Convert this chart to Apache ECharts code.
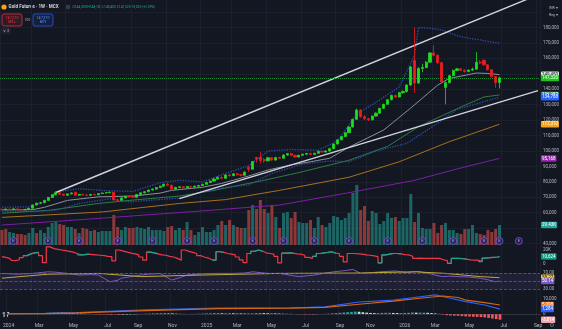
<!DOCTYPE html>
<html>
<head>
<meta charset="utf-8">
<script src="https://cdn.jsdelivr.net/npm/echarts@6/dist/echarts.min.js"></script>
<style>
  html, body { margin: 0; padding: 0; background: #131722; }
  #chart { width: 562px; height: 329px; }
</style>
</head>
<body>
<div id="chart"></div>
<script>
// weekly candles, prices in thousands (INR)
var weekCount = 140; // 130 traded weeks + right offset
var weeks = [];
for (var k = 0; k < weekCount; k++) {
  weeks.push(new Date(Date.UTC(2024, 0, 1 + 7 * k)).toISOString().slice(0, 10));
}

var open = [62.3,62.0,62.4,62.1,62.5,62.0,61.8,62.2,62.9,65.0, 66.2,66.5,68.0,69.9,71.6,73.0,72.0,71.3,72.2,73.3,
  71.4,71.9,71.5,71.3,71.9,71.6,72.4,72.8,73.0,73.3, 68.3,68.1,69.6,70.6,70.3,70.0,71.8,72.9,73.6,74.7,
  75.3,76.3,77.2,78.4,77.8,75.3,76.4,76.8,76.2,77.0, 76.6,77.2,77.6,78.4,79.6,80.5,81.8,82.9,82.3,84.5,
  84.0,85.2,84.6,84.3,89.5,88.2,95.8,96.0,94.5,93.6, 95.6,94.1,95.8,95.3,97.4,98.3,97.2,96.1,97.2,97.9,
  98.4,97.8,98.5,99.8,99.3,100.0,101.5,104.5,107.2,109.3, 111.8,115.5,120.5,126.5,122.2,120.8,120.2,122.6,124.5,127.6,
  130.2,133.2,136.0,135.0,137.8,138.5,142.7,158.7,144.0,153.5, 154.0,157.5,163.5,162.0,157.2,141.2,144.2,148.8,152.2,153.2,
  152.3,151.5,152.4,153.0,157.5,158.8,155.8,152.6,148.2,144.3];
var close = [62.0,62.4,62.1,62.5,62.0,61.8,62.2,62.9,65.0,66.2, 66.5,68.0,69.9,71.6,73.0,72.0,71.3,72.2,72.8,71.4,
  71.9,71.5,71.3,71.9,71.6,72.4,72.8,73.0,73.3,68.3, 68.1,69.6,70.6,70.3,70.0,71.8,72.9,73.6,74.7,75.3,
  76.3,77.2,78.4,77.8,75.3,76.4,76.8,76.2,77.0,76.6, 77.2,77.6,78.4,79.6,80.5,81.8,82.9,82.3,84.5,84.0,
  85.2,84.6,84.3,86.3,88.2,93.2,94.6,93.8,93.6,95.6, 94.1,95.8,95.3,97.4,98.3,97.2,96.1,97.2,97.9,98.4,
  97.8,98.5,99.8,99.3,100.0,101.5,104.5,107.2,109.3,111.8, 115.5,120.5,126.5,122.2,120.8,120.2,122.6,124.5,127.6,130.2,
  133.2,136.0,135.0,137.8,138.5,142.7,154.4,144.0,153.5,154.0, 157.5,163.5,162.0,157.2,144.7,144.2,148.8,152.2,153.2,152.3,
  151.5,152.4,153.0,157.5,157.0,155.8,152.6,148.2,144.3,147.32];
var low = [61.6,61.8,61.7,61.9,61.8,61.4,61.6,62.0,62.7,64.8, 65.6,66.2,67.7,69.5,71.2,71.6,70.9,71.0,71.9,71.0,
  71.0,71.2,70.8,71.0,71.3,71.4,72.1,72.5,72.6,67.8, 67.6,67.9,69.3,69.9,69.6,69.8,71.5,72.6,73.3,74.3,
  75.0,76.0,76.9,77.3,74.9,75.0,76.0,75.8,75.9,76.2, 76.4,76.9,77.3,78.1,79.3,80.2,81.5,81.8,82.0,83.4,
  83.7,84.1,83.6,84.0,86.5,88.0,92.5,92.0,92.4,93.2, 93.4,93.8,94.8,95.0,97.0,96.8,95.6,95.8,96.9,97.5,
  97.2,97.5,98.2,98.8,99.0,99.7,101.2,104.2,106.9,109.0, 111.5,115.2,120.2,121.5,120.0,119.4,119.8,122.3,124.2,127.3,
  129.9,132.9,134.2,134.7,137.0,138.0,142.2,137.6,143.5,151.0, 153.6,157.0,161.2,156.5,144.0,130.2,143.8,148.4,151.8,151.7,
  150.8,151.0,151.9,152.6,156.2,155.2,152.0,147.6,140.9,140.45];
var high = [62.6,62.7,62.6,62.8,62.7,62.3,62.4,63.1,65.3,66.6, 67.0,68.4,70.3,72.0,73.8,73.5,72.5,72.5,73.2,73.6,
  72.2,72.3,71.8,72.1,72.2,72.7,73.1,73.4,73.6,73.5, 69.0,69.9,71.0,71.2,70.8,72.1,73.2,74.0,75.0,75.7,
  76.7,77.6,78.9,79.2,78.2,76.8,77.2,77.3,77.4,77.3, 77.5,78.0,78.8,80.0,81.0,82.3,83.5,83.6,84.8,85.3,
  85.6,85.8,85.1,86.8,90.0,93.6,96.3,99.3,95.5,96.0, 96.2,96.2,96.3,97.8,98.7,99.0,97.6,97.5,98.3,98.8,
  98.9,98.9,100.2,100.4,100.5,102.0,104.8,107.6,109.7,112.3, 116.0,121.0,127.5,127.0,123.3,121.5,123.0,125.0,128.0,130.6,
  133.6,136.5,136.6,138.3,139.2,143.2,155.2,180.3,154.2,156.5, 158.2,164.0,168.5,162.6,157.8,145.0,149.3,152.7,153.8,153.7,
  152.8,152.9,154.0,164.0,159.0,159.3,156.2,153.0,148.6,148.1];

var volume = [15,16,13,12,11,11,10,12,17,12, 15,12,18,22,23,21,20,18,18,16, 12,17,16,14,15,13,14,14,14,30,
  18,15,18,17,17,18,17,16,18,15, 15,15,14,18,19,15,17,15,23,15, 10,13,18,13,13,15,20,24,20,25,
  20,18,17,17,35,40,36,45,36,32, 40,28,17,32,33,27,33,23,22,22, 25,17,28,20,18,22,29,28,25,27,
  32,52,60,35,39,24,34,32,21,24, 32,27,28,24,27,27,51,23,32,17, 16,16,22,12,20,22,15,15,12,11,
  16,16,20,12,11,10,15,13,16,20];
var volumeUp = [0,0,1,1,0,0,0,1,1,0, 1,1,1,1,1,0,0,1,1,0, 1,0,0,1,0,1,1,1,1,0, 0,1,1,0,0,1,1,1,1,1,
  1,1,1,0,0,1,1,0,1,0, 1,1,1,1,1,1,1,0,1,0, 1,0,0,1,0,1,0,0,0,1, 0,1,0,1,1,0,0,1,1,1,
  0,1,1,0,1,1,1,1,1,1, 1,1,1,0,0,0,1,1,1,1, 1,1,0,1,1,1,1,0,1,1, 1,1,0,0,0,1,1,1,1,0,
  0,1,1,1,0,0,0,0,0,1];
var eventWeeks = [3,12,20,30,39,48,55,65,73,81,90,100,109,117,125,129,134];

// overlay lines read as [week, price K]
var maGrey = [[0,61.8],[8,62.0],[11,63.5],[17,68.0],[25,70.3],[34,70.8],[41,72.7],[44,74.5],[52,76.5],[57,79.0],
  [64,83.8],[69,87.7],[75,91.0],[80,93.0],[85,95.3],[90,102.5],[99,113.6],[106,127.8],[113,142.7],[116,147.0],
  [123,150.5],[126,150.2],[129,149.45]];
var maGreen = [[0,59.7],[12,61.5],[25,66.0],[34,68.2],[46,70.8],[55,74.5],[67,80.5],[77,86.0],[90,94.0],[100,103.0],
  [108,115.7],[119,128.5],[125,135.0],[129,136.29]];
var maOrange = [[0,57.0],[26,60.5],[46,66.0],[58,68.5],[72,74.5],[90,83.0],[103,93.0],[116,106.0],[129,117.31]];
var maPurple = [[0,52.0],[26,56.5],[51,61.0],[72,65.0],[90,73.0],[107,81.0],[119,89.0],[129,95.17]];
var bandUpper = [[0,63.6],[7,63.8],[11,67.0],[14,73.5],[20,75.5],[27,74.3],[34,73.8],[41,79.5],[46,81.0],[52,80.0],
  [58,85.5],[64,90.5],[69,100.0],[75,101.0],[82,100.5],[87,106.5],[92,124.0],[97,131.5],[103,141.5],[107,162.0],
  [108,180.0],[111,179.5],[114,178.4],[116,176.5],[119,174.0],[121,173.0],[124,172.0],[127,170.5],[129,169.9]];
var bandLower = [[0,61.0],[8,60.8],[14,61.5],[20,66.0],[28,69.0],[33,67.0],[38,68.0],[46,69.5],[52,73.5],[58,76.5],
  [64,78.0],[70,85.5],[78,91.5],[85,93.5],[90,93.0],[97,100.0],[105,105.0],[113,118.0],[118,127.0],[123,130.5],[129,134.79]];
var trendUpper = [[14,73.1],[139,201.2]];
var trendLower = [[46,69.1],[139,139.1]];

// open interest pane (K)
var oi = [10.5,9.5,8,5,6,9,12,14.5,16,16.5, 12,2,24.5,22,21,20,19,18,17,15, 13,13.5,14,13.5,13,12.5,12,11,10.5,4.5,
  20,18.5,17,15.5,14.5,13,10,5.5,17,16, 14.5,13,12.5,11,10,8,5.5,20,18,16.5, 15,12,10,8.5,6,5.5,17.5,16.5,15,14,
  13,10,6,2,15,18,20,18.5,16,15, 14,11,1.5,15.5,16,15.5,14.5,14,12.5,9.5, 8,11,15,16,16.5,17.5,15.5,15,11,3,
  15,15,14.5,14,13,12.5,11.5,10.5,1.5,13, 14,15,15,14.5,13.5,13,11,8,8.5,8, 8,8,8,8,6,5,1,8,8,7.5,
  7,6,5.5,5.5,3.5,8.5,9,9.5,10,10.6];
var oiUpWeeks = [7,8,9,21,22,39,40,56,57,65,66,67,74,75,82,83,84,85,86,99,100,101,102,103,117,118,119,120,125,126,127,128,129];

// oscillator pane
var rsi = [[0,69],[4,67],[8,69],[12,73],[14,72],[17,69],[20,65],[23,66],[25,65],[28,48],[30,52],[31,57],[36,65],[38,67],
  [41,69],[44,52.5],[46,58],[48,65],[52,68],[55,69],[60,69],[63,70],[65,73],[69,69],[72,69],[75,64],[77,61],[81,65],
  [84,70],[86,73],[89,76],[91,79],[93,69],[95,70],[98,73],[100,74],[102,75],[105,71],[107,73],[108,74],[111,68],
  [114,61],[116,62],[118,61],[121,60],[124,57],[126,53],[128,48],[129,50.14]];
var rsiMa = [[0,57],[12,67],[25,69],[36,61],[52,65],[72,69],[93,70],[107,73],[115,69],[124,61],[129,58.27]];

// MACD pane (K)
var macd = [[0,0.2],[10,0.5],[18,1.0],[36,2.7],[55,4.0],[74,4.0],[83,4.7],[92,8.0],[101,9.3],[108,11.5],[112,12.7],
  [116,10.5],[120,8.2],[125,6.0],[129,3.3]];
var signal = [[0,0.0],[10,0.3],[18,0.7],[36,2.3],[55,3.6],[74,3.9],[83,4.4],[92,6.5],[101,8.6],[108,10.5],[114,12.0],
  [118,11.0],[120,9.3],[125,7.6],[129,6.0]];
var hist = [0.2,0.3,0.2,0.2,0.1,0.1,0.2,0.3,0.5,0.7, 0.8,0.9,1.0,1.1,1.0,0.8,0.6,0.5,0.4,0.3,
  0.2,0.1,-0.1,-0.2,-0.3,-0.3,-0.4,-0.3,-0.4,-0.6, -0.5,-0.4,-0.3,-0.2,-0.1,0.1,0.2,0.3,0.4,0.5,
  0.5,0.6,0.6,0.4,0.2,0.1,0.1,0.0,0.1,0.1, 0.2,0.3,0.4,0.5,0.6,0.6,0.5,0.5,0.6,0.5,
  0.5,0.4,0.3,0.4,0.4,0.6,0.7,0.6,0.5,0.5, 0.4,0.3,0.2,0.2,0.1,0.0,-0.1,-0.2,-0.3,-0.3,
  -0.2,-0.1,0.0,0.1,0.2,0.4,0.6,0.8,1.0,1.2, 1.4,1.6,1.5,1.2,0.9,0.7,0.6,0.6,0.7,0.8,
  0.8,0.7,0.6,0.6,0.7,0.8,1.0,0.9,0.9,0.9, 0.8,0.6,0.4,0.1,-0.4,-0.8,-1.0,-1.1,-1.2,-1.4,
  -1.6,-1.7,-1.8,-1.9,-2.0,-2.3,-2.6,-3.0,-3.4,-3.8];

var priceGrid = [40,50,60,70,80,90,100,110,120,130,140,150,160,170,180,190];
var priceLabels = [40,60,70,80,90,100,110,120,130,140,160,170,180];

var monthNames = ['Jan','Feb','Mar','Apr','May','Jun','Jul','Aug','Sep','Oct','Nov','Dec'];
function weekLabel(idx) {
  var d = new Date(weeks[idx] + 'T00:00:00Z');
  var end = new Date(d.getTime() + 6 * 864e5);
  if (end.getUTCDate() > 7) return '';
  var m = end.getUTCMonth();
  if (m % 2 !== 0) return '';
  return m === 0 ? String(end.getUTCFullYear()) : monthNames[m];
}
function showWeek(idx) { return weekLabel(idx) !== ''; }
function fmtK(v) { return Math.round(v * 1000).toLocaleString('en-US'); }

// value boxes on the price scale (invisible line, label only)
function tag(val, text, bg, fg) {
  return { yAxis: val, label: { formatter: text, backgroundColor: bg, color: fg || '#ffffff' } };
}
function tags(items) {
  return {
    silent: true, symbol: ['none', 'none'], lineStyle: { color: 'rgba(0,0,0,0)', width: 0 },
    label: { show: true, position: 'end', distance: 1, fontSize: 4.5, padding: [1, 1, 0.5, 1], borderRadius: 1 },
    data: items
  };
}
function line(name, data, color, xi, extra) {
  var s = { name: name, type: 'line', data: data, xAxisIndex: xi, yAxisIndex: xi, showSymbol: false,
    silent: true, lineStyle: { color: color, width: 1 }, z: 2 };
  for (var key in extra) s[key] = extra[key];
  return s;
}

var candleData = open.map(function (o, i) { return [o, close[i], low[i], high[i]]; });
var volData = volume.map(function (v, i) {
  return { value: v, itemStyle: { color: volumeUp[i] ? 'rgba(38,166,154,0.55)' : 'rgba(239,83,80,0.55)' } };
});
var oiGreen = oi.map(function (v, i) {
  if (oiUpWeeks.indexOf(i) >= 0) return v;
  return oiUpWeeks.indexOf(i + 1) >= 0 ? v : null;
});
var histData = hist.map(function (v, i) {
  var prev = i > 0 ? hist[i - 1] : v;
  var c = v >= 0 ? (v >= prev ? '#26a69a' : '#b2dfdb') : (v <= prev ? '#ff5252' : '#ffcdd2');
  return { value: v, itemStyle: { color: c } };
});

var xAxes = [];
for (var g = 0; g < 5; g++) {
  xAxes.push({
    type: 'category', gridIndex: g, data: weeks,
    axisLine: { show: false }, axisTick: { show: false },
    axisLabel: g === 4 ? { show: true, interval: showWeek, formatter: function (v, idx) { return weekLabel(idx); },
      fontSize: 5, color: '#b2b5be', margin: 3 } : { show: false },
    splitLine: { show: g !== 1, interval: showWeek, lineStyle: { color: '#1c202c', width: 1 } }
  });
}

var sideAxis = { type: 'value', position: 'right', axisLine: { show: false }, axisTick: { show: false },
  splitLine: { show: false } };
function yAx(extra) { var o = {}; for (var a in sideAxis) o[a] = sideAxis[a]; for (var b in extra) o[b] = extra[b]; return o; }
function lab(vals, f) { return { customValues: vals, formatter: f, fontSize: 4.5, color: '#b2b5be', margin: 3 }; }

var option = {
  backgroundColor: '#131722',
  animation: false,
  textStyle: { fontFamily: 'Roboto, "Noto Sans", sans-serif' },
  grid: [
    { left: 0, right: 22, top: 0, height: 247 },
    { left: 0, right: 22, top: 147, height: 98 },
    { left: 0, right: 22, top: 246, height: 20 },
    { left: 0, right: 22, top: 265, height: 28 },
    { left: 0, right: 22, top: 292, height: 28 }
  ],
  xAxis: xAxes,
  yAxis: [
    yAx({ gridIndex: 0, min: 37.8, max: 197.8, axisTick: { show: false, customValues: priceGrid },
      axisLabel: lab(priceLabels, fmtK), splitLine: { show: true, lineStyle: { color: '#1c202c', width: 1 } } }),
    { type: 'value', gridIndex: 1, min: 0, max: 98, show: false },
    yAx({ gridIndex: 2, min: -2.857, max: 25.714, axisLabel: lab([0, 20], function (v) { return v ? v + 'K' : '0'; }) }),
    yAx({ gridIndex: 3, min: 20, max: 90, axisLabel: lab([70, 30], function (v) { return v.toFixed(2); }) }),
    yAx({ gridIndex: 4, min: -4, max: 14.667, axisLabel: lab([0, 10], fmtK) })
  ],
  series: [
    line('MA grey', maGrey, '#8d9099', 0),
    line('MA green', maGreen, '#2f7a45', 0),
    line('MA orange', maOrange, '#a8701c', 0),
    line('MA purple', maPurple, '#7b1fa2', 0),
    line('Band upper', bandUpper, '#2f4ea6', 0, { lineStyle: { color: '#2f4ea6', width: 1.3, type: 'dotted' } }),
    line('Band lower', bandLower, '#2f4ea6', 0, { lineStyle: { color: '#2f4ea6', width: 1.3, type: 'dotted' } }),
    line('Trend upper', trendUpper, '#d1d4dc', 0, { lineStyle: { color: '#d1d4dc', width: 1.4 }, z: 4 }),
    line('Trend lower', trendLower, '#d1d4dc', 0, { lineStyle: { color: '#d1d4dc', width: 1.4 }, z: 4 }),
    {
      name: 'Gold Futures', type: 'candlestick', data: candleData, xAxisIndex: 0, yAxisIndex: 0, z: 5,
      barWidth: 2.6, silent: true,
      itemStyle: { color: '#1edc1e', color0: '#ee1c1c', borderColor: '#1edc1e', borderColor0: '#ee1c1c', borderWidth: 0.8 },
      markLine: tags([
        tag(149.45, '149,450', '#e0e3eb', '#131722'),
        tag(136.29, '136,287', '#3a9a68'),
        tag(134.79, '134,788', '#2962ff'),
        tag(117.31, '117,310', '#f7a21b'),
        tag(95.17, '95,168', '#9c27b0'),
        { yAxis: 147.32, lineStyle: { color: '#1f8f3a', type: 'dotted', width: 1 },
          label: { formatter: '147,320', backgroundColor: '#1fc21f', color: '#ffffff' } }
      ])
    },
    {
      name: 'Volume', type: 'bar', data: volData, xAxisIndex: 1, yAxisIndex: 1, barWidth: '78%', silent: true, z: 1,
      markLine: tags([tag(20, '29.43K', '#26a69a')])
    },
    {
      name: 'Events', type: 'scatter', xAxisIndex: 1, yAxisIndex: 1, z: 6, silent: true,
      data: eventWeeks.map(function (w) { return [w, 4]; }),
      symbol: 'circle', symbolSize: 7,
      itemStyle: { color: '#2d1b6b', borderColor: '#7e57c2', borderWidth: 1 },
      label: { show: true, position: 'inside', formatter: 'E', fontSize: 4, color: '#d1c4e9' }
    },
    line('OI', oi, '#f23645', 2, { step: 'middle', lineStyle: { color: '#f23645', width: 1.2 } }),
    line('OI up', oiGreen, '#089981', 2, { step: 'middle', lineStyle: { color: '#0fa88d', width: 1.2 }, z: 3,
      markLine: tags([tag(10.6, '10,624', '#089981')]) }),
    line('RSI', rsi, '#7e57c2', 3, {
      markArea: { silent: true, itemStyle: { color: 'rgba(126,87,194,0.12)' }, data: [[{ yAxis: 30 }, { yAxis: 70 }]] },
      markLine: { silent: true, symbol: ['none', 'none'], label: { show: false },
        lineStyle: { color: '#5d606b', type: 'dashed', width: 0.8 }, data: [{ yAxis: 70 }, { yAxis: 50 }, { yAxis: 30 }] }
    }),
    line('RSI MA', rsiMa, '#bfa93a', 3, {
      markLine: tags([tag(58.27, '58.27', '#f4d03f', '#131722'), tag(50.14, '50.14', '#7e57c2')]) }),
    {
      name: 'Histogram', type: 'bar', data: histData, xAxisIndex: 4, yAxisIndex: 4, barWidth: '70%', silent: true,
      markLine: { silent: true, symbol: ['none', 'none'], label: { show: false },
        lineStyle: { color: '#5d606b', type: 'dotted', width: 0.8 }, data: [{ yAxis: 0 }] }
    },
    line('MACD', macd, '#2962ff', 4, { lineStyle: { color: '#2962ff', width: 1.2 } }),
    line('Signal', signal, '#ff6d00', 4, { lineStyle: { color: '#d9650f', width: 1.2 },
      markLine: tags([tag(6.0, '5,098', '#ff6d00'), tag(3.3, '1,284', '#2962ff'), tag(-3.8, '-3,814', '#f0a5b0')]) })
  ],
  graphic: [
    { type: 'circle', shape: { cx: 4, cy: 7, r: 2.6 }, style: { fill: '#f7a600' } },
    { type: 'text', x: 8.5, y: 7, style: { text: 'Gold Futures · 1W · MCX', fill: '#d1d4dc',
      font: 'bold 4.6px Roboto', verticalAlign: 'middle' } },
    { type: 'circle', shape: { cx: 68, cy: 7, r: 2.4 }, style: { fill: '#363a45' } },
    { type: 'text', x: 72.5, y: 7, style: { text: 'O144,300 H148,100 L140,450 C147,320 +3,020 (+2.09%)',
      fill: '#22ab94', font: '3.3px Roboto', verticalAlign: 'middle' } },
    { type: 'rect', shape: { x: 2, y: 14, width: 20, height: 12, r: 2 },
      style: { fill: 'rgba(242,54,69,0.12)', stroke: '#f23645', lineWidth: 0.7 } },
    { type: 'text', x: 12, y: 17.8, style: { text: '147,270', fill: '#f23645', font: '3.6px Roboto', align: 'center', verticalAlign: 'middle' } },
    { type: 'text', x: 12, y: 22.4, style: { text: 'SELL', fill: '#f23645', font: '3.6px Roboto', align: 'center', verticalAlign: 'middle' } },
    { type: 'text', x: 27.5, y: 20, style: { text: '100', fill: '#b2b5be', font: '3.2px Roboto', align: 'center', verticalAlign: 'middle' } },
    { type: 'rect', shape: { x: 33, y: 14, width: 20, height: 12, r: 2 },
      style: { fill: 'rgba(41,98,255,0.12)', stroke: '#2962ff', lineWidth: 0.7 } },
    { type: 'text', x: 43, y: 17.8, style: { text: '147,370', fill: '#5b8cff', font: '3.6px Roboto', align: 'center', verticalAlign: 'middle' } },
    { type: 'text', x: 43, y: 22.4, style: { text: 'BUY', fill: '#5b8cff', font: '3.6px Roboto', align: 'center', verticalAlign: 'middle' } },
    { type: 'rect', shape: { x: 1, y: 28, width: 10, height: 6, r: 1 }, style: { fill: '#1e222d' } },
    { type: 'text', x: 6, y: 31, style: { text: '∨ 3', fill: '#b2b5be', font: '3.6px Roboto', align: 'center', verticalAlign: 'middle' } },
    { type: 'text', x: 549, y: 8, style: { text: 'INR ▾', fill: '#b2b5be', font: '3.6px Roboto', verticalAlign: 'middle' } },
    { type: 'text', x: 549, y: 15, style: { text: 'Reg ▾', fill: '#b2b5be', font: '3.6px Roboto', verticalAlign: 'middle' } },
    { type: 'text', x: 2, y: 315, style: { text: '17', fill: '#d1d4dc', font: 'bold 6.5px Roboto', verticalAlign: 'middle' } },
    { type: 'text', x: 552, y: 325, style: { text: '⚙', fill: '#787b86', font: '6px "DejaVu Sans"', align: 'center', verticalAlign: 'middle' } }
  ]
};

var myChart = echarts.init(document.getElementById('chart'));
myChart.setOption(option);
</script>
</body>
</html>
